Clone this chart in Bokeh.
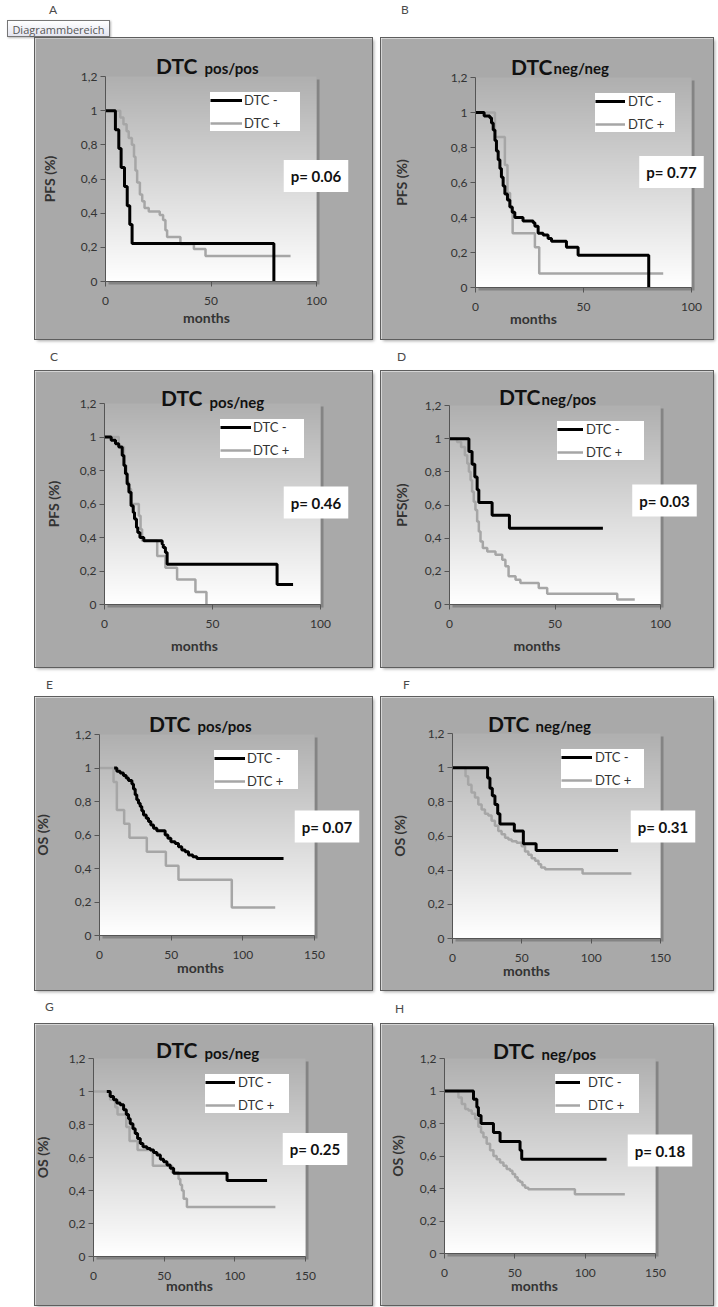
import numpy as np
from bokeh.plotting import figure
from bokeh.models import (Range1d, FixedTicker, CustomJSTickFormatter, Label,
                          Legend, LegendItem, Div, Spacer, BoxAnnotation)
from bokeh.layouts import row, column
from bokeh.embed import file_html
from bokeh.resources import INLINE

# ---------------- data ----------------
PANEL_LETTERS = ["A", "B", "C", "D", "E", "F", "G", "H"]
TITLE_MAIN = "DTC"
TITLE_SUBS = ["pos/pos", "neg/neg", "pos/neg", "neg/pos",
              "pos/pos", "neg/neg", "pos/neg", "neg/pos"]
Y_LABELS = ["PFS (%)", "PFS (%)", "PFS (%)", "PFS(%)",
            "OS (%)", "OS (%)", "OS (%)", "OS (%)"]
X_LABEL = "months"
P_VALUES = ["p= 0.06", "p= 0.77", "p= 0.46", "p= 0.03",
            "p= 0.07", "p= 0.31", "p= 0.25", "p= 0.18"]
SERIES_NAMES = ["DTC -", "DTC +"]
Y_TICKS = [0, 0.2, 0.4, 0.6, 0.8, 1.0, 1.2]
Y_TICK_LABELS = ["0", "0,2", "0,4", "0,6", "0,8", "1", "1,2"]
X_TICKS_PFS = [0, 50, 100]
X_TICKS_OS = [0, 50, 100, 150]

# A  PFS pos/pos
A_NEG_T = [0, 4.7, 6.3, 7.4, 9.0, 10.3, 11.5, 12.6, 79.8]
A_NEG_S = [1, 0.889, 0.778, 0.667, 0.556, 0.444, 0.333, 0.222, 0]
A_POS_T = [0, 7, 8.5, 10, 11, 12.5, 13.5, 14.2, 15, 16.3, 17.4, 18.5, 20.5,
           25.7, 27.3, 28.4, 29.2, 35.5, 41.9, 47.4, 87.7]
A_POS_S = [1, 0.96, 0.92, 0.88, 0.84, 0.80, 0.73, 0.65, 0.58, 0.51, 0.47, 0.43,
           0.41, 0.39, 0.36, 0.30, 0.26, 0.22, 0.19, 0.15, 0.15]
# B  PFS neg/neg
B_NEG_T = [0, 4, 6.6, 7.4, 8.2, 9, 9.7, 10.5, 11.3, 12, 12.8, 13.6, 14.8, 15.9,
           17, 18.2, 22, 26.7, 27.5, 29, 31.3, 33.6, 35.2, 42.1, 47.5, 80.2]
B_NEG_S = [1, 0.98, 0.97, 0.94, 0.90, 0.84, 0.78, 0.73, 0.68, 0.63, 0.58, 0.535,
           0.50, 0.46, 0.43, 0.40, 0.38, 0.37, 0.35, 0.31, 0.30, 0.28, 0.265,
           0.23, 0.185, 0]
B_POS_T = [0, 9, 13.6, 14.8, 16, 17.2, 27.5, 29.5, 86.9]
B_POS_S = [1, 0.86, 0.70, 0.54, 0.46, 0.31, 0.23, 0.08, 0.08]
# C  PFS pos/neg
C_NEG_T = [0, 3.1, 5.1, 6.6, 8.2, 9, 9.7, 10.5, 11.3, 12.3, 13.3, 13.9, 14.8,
           15.4, 16.4, 18.2, 26.7, 27.2, 28.2, 29, 79.9, 87.3]
C_NEG_S = [1, 0.98, 0.96, 0.94, 0.89, 0.83, 0.78, 0.72, 0.67, 0.59, 0.55, 0.51,
           0.46, 0.43, 0.40, 0.38, 0.36, 0.34, 0.31, 0.24, 0.12, 0.12]
C_POS_T = [0, 6.6, 9, 10.2, 11.3, 12.3, 15.9, 16.7, 17.4, 24.4, 28.2, 33.6,
           42.1, 47.2]
C_POS_S = [1, 0.94, 0.83, 0.73, 0.69, 0.60, 0.53, 0.45, 0.38, 0.29, 0.22, 0.15,
           0.075, 0]
# D  PFS neg/pos
D_NEG_T = [0, 9.2, 10.7, 12, 13.1, 13.9, 20.2, 28.4, 72.7]
D_NEG_S = [1, 0.923, 0.846, 0.769, 0.692, 0.615, 0.538, 0.46, 0.46]
D_POS_T = [0, 3.6, 5.5, 7.3, 8.4, 9.2, 10, 10.7, 11.5, 12.3, 13.1, 13.9, 14.7,
           15.8, 17.9, 21.8, 25, 26.5, 28, 31.3, 33.6, 42.3, 46.3, 79.5, 87.8]
D_POS_S = [1, 0.98, 0.95, 0.90, 0.85, 0.80, 0.75, 0.68, 0.62, 0.57, 0.50, 0.44,
           0.38, 0.34, 0.32, 0.30, 0.27, 0.23, 0.17, 0.15, 0.13, 0.10, 0.065,
           0.03, 0.03]
# E  OS pos/pos
E_NEG_T = [10.2, 12.1, 14.4, 16.7, 18.6, 20.2, 22.6, 23.7, 24.9, 26, 27.2, 28.4,
           29.5, 30.7, 32.6, 34.2, 35.8, 37.7, 40, 45.8, 47.7, 49.8, 52.8, 55.1,
           57.4, 59.8, 62.1, 65.1, 67.9, 128.4]
E_NEG_S = [1, 0.98, 0.97, 0.955, 0.94, 0.925, 0.905, 0.875, 0.84, 0.81, 0.79,
           0.77, 0.745, 0.72, 0.70, 0.68, 0.66, 0.64, 0.625, 0.60, 0.58, 0.56,
           0.55, 0.53, 0.51, 0.50, 0.48, 0.47, 0.46, 0.46]
E_POS_T = [0, 9.8, 12.1, 17.2, 20.9, 33, 46.3, 55.1, 92.3, 122.6]
E_POS_S = [1, 0.917, 0.75, 0.667, 0.583, 0.5, 0.417, 0.333, 0.167, 0.167]
# F  OS neg/neg
F_NEG_T = [0, 25.3, 27, 28.7, 30.6, 32.6, 34.2, 44.6, 51.1, 60.3, 119.4]
F_NEG_S = [1, 0.94, 0.88, 0.835, 0.785, 0.73, 0.67, 0.63, 0.555, 0.515, 0.515]
F_POS_T = [0, 9.4, 11.3, 13.7, 16.2, 18.6, 21, 23.4, 25.8, 28.2, 30.6, 33, 35.4,
           37.9, 40.3, 42.7, 46.3, 49.9, 52.3, 54.7, 57.1, 59.6, 62, 63.9, 66.8,
           93.8, 129]
F_POS_S = [1, 0.95, 0.90, 0.855, 0.825, 0.785, 0.755, 0.73, 0.72, 0.69, 0.66,
           0.63, 0.61, 0.59, 0.58, 0.57, 0.56, 0.54, 0.51, 0.49, 0.47, 0.455,
           0.435, 0.415, 0.405, 0.38, 0.38]
# G  OS pos/neg
G_NEG_T = [9.4, 11.8, 14.2, 16.5, 18.9, 21.3, 23.2, 24.8, 26, 27.9, 29.5, 31.2,
           33.1, 35, 37.8, 40.2, 42.5, 44.9, 47.3, 49.6, 52, 54.3, 56.7, 94.5,
           122.8]
G_NEG_S = [1, 0.97, 0.95, 0.93, 0.92, 0.89, 0.86, 0.835, 0.805, 0.775, 0.745,
           0.715, 0.685, 0.665, 0.655, 0.645, 0.63, 0.615, 0.59, 0.575, 0.555,
           0.535, 0.505, 0.46, 0.46]
G_POS_T = [0, 11.8, 15.4, 17, 23.2, 25.5, 31.2, 42, 55.5, 60.2, 61.4, 62.6,
           63.8, 66.1, 128.7]
G_POS_S = [1, 0.95, 0.905, 0.86, 0.785, 0.70, 0.645, 0.55, 0.51, 0.47, 0.435,
           0.40, 0.35, 0.30, 0.30]
# H  OS neg/pos
H_NEG_T = [0, 20.6, 23, 24.1, 26, 34.8, 39.5, 53.7, 54.9, 115.2]
H_NEG_S = [1, 0.95, 0.90, 0.85, 0.80, 0.745, 0.69, 0.635, 0.58, 0.58]
H_POS_T = [0, 9.9, 12.3, 14.7, 17, 19.4, 21.8, 24.1, 26, 27.7, 30, 32.4, 34.8,
           37.1, 39.5, 41.9, 44.2, 46.6, 48.3, 50.2, 52, 53.7, 55.4, 57.3, 59.6,
           92.7, 128.2]
H_POS_S = [1, 0.96, 0.92, 0.89, 0.88, 0.86, 0.83, 0.78, 0.745, 0.715, 0.675,
           0.635, 0.60, 0.58, 0.56, 0.54, 0.52, 0.51, 0.49, 0.47, 0.45, 0.44,
           0.42, 0.405, 0.395, 0.365, 0.365]

CURVES = [
    (A_NEG_T, A_NEG_S, A_POS_T, A_POS_S, X_TICKS_PFS),
    (B_NEG_T, B_NEG_S, B_POS_T, B_POS_S, X_TICKS_PFS),
    (C_NEG_T, C_NEG_S, C_POS_T, C_POS_S, X_TICKS_PFS),
    (D_NEG_T, D_NEG_S, D_POS_T, D_POS_S, X_TICKS_PFS),
    (E_NEG_T, E_NEG_S, E_POS_T, E_POS_S, X_TICKS_OS),
    (F_NEG_T, F_NEG_S, F_POS_T, F_POS_S, X_TICKS_OS),
    (G_NEG_T, G_NEG_S, G_POS_T, G_POS_S, X_TICKS_OS),
    (H_NEG_T, H_NEG_S, H_POS_T, H_POS_S, X_TICKS_OS),
]

# ---------------- styling / layout ----------------
FONT = "Lato"
BOX_GRAY = "#a9a9a9"
CURVE_GRAY = "#a6a6a6"
AXIS_COL = "#555555"
TICK_TXT = "#333333"

# W,H: gray box; L,R,T,B: distance of the plot area from the box edges (px)
LAYOUT = [
    dict(W=337, H=301, L=70, R=56, T=38, B=58, tr=92, sl=99, tb=11, sb=9, px=210.5, py=105.5, mx=101, my=36, ys=20, gw=32, ls=2, lw=56),
    dict(W=332, H=301, L=94, R=22, T=39, B=52, tr=77, sl=78, tb=11, sb=10, px=196, py=115.5, mx=58, my=31, ys=38, gw=30, ls=3, lw=47),
    dict(W=337, H=296, L=69, R=52, T=32, B=63, tr=98, sl=105, tb=6, sb=2, px=211.5, py=102, mx=90, my=41, ys=15, gw=31, ls=2, lw=51),
    dict(W=332, H=296, L=68, R=53, T=34, B=63, tr=91, sl=92, tb=9, sb=7, px=215, py=104, mx=87.5, my=41, ys=12, gw=26, ls=3, lw=58),
    dict(W=337, H=293, L=64, R=58, T=37, B=55, tr=91, sl=98, tb=11, sb=9, px=227.5, py=109, mx=101, my=32, ys=21, gw=31, ls=2, lw=51),
    dict(W=332, H=293, L=71, R=53, T=36, B=52, tr=77, sl=83, tb=10, sb=8, px=210.5, py=112, mx=74, my=32, ys=17, gw=31, ls=3, lw=49),
    dict(W=337, H=281, L=58, R=67, T=34, B=49, tr=104, sl=111, tb=9, sb=6, px=221.5, py=107.5, mx=96, my=29, ys=15, gw=30, ls=3, lw=51),
    dict(W=332, H=281, L=63, R=58, T=34, B=52, tr=90, sl=97, tb=8, sb=5, px=215.5, py=103, mx=90, my=32, ys=11, gw=25, ls=8, lw=51),
]
LEG_PAD, LEG_ROW, LEG_SPACING = 8, 16, 7
SHADOW_PX = 3

# vertical gradient image for the plot area (row 0 = bottom)
N_GRAD = 160
grad_vals = np.linspace(255, 176, N_GRAD).astype(np.uint8)
GRAD = np.empty((N_GRAD, 1), dtype=np.uint32)
gview = GRAD.view(dtype=np.uint8).reshape((N_GRAD, 1, 4))
gview[:, 0, 0] = grad_vals
gview[:, 0, 1] = grad_vals
gview[:, 0, 2] = grad_vals
gview[:, 0, 3] = 255

y_formatter_code = """
for (let j = 0; j < tvals.length; j++) {
  if (Math.abs(tvals[j] - tick) < 1e-9) { return tlabs[j]; }
}
return String(tick);
"""


def make_panel(i):
    cfg = LAYOUT[i]
    neg_t, neg_s, pos_t, pos_s, xticks = CURVES[i]
    W, H, L, R, T, B = cfg["W"], cfg["H"], cfg["L"], cfg["R"], cfg["T"], cfg["B"]
    fw = W - L - R
    fh = H - T - B
    xmax = xticks[-1]
    ymax = Y_TICKS[-1]
    sx = fw / xmax
    sy = fh / ymax
    # the whole gray box is the frame; the data area sits inside it
    p = figure(width=W, height=H,
               x_range=Range1d(-L / sx, xmax + R / sx),
               y_range=Range1d(-B / sy, ymax + T / sy),
               output_backend="svg", toolbar_location=None,
               min_border=0, min_border_left=0, min_border_right=0,
               min_border_top=0, min_border_bottom=0,
               border_fill_color=BOX_GRAY, background_fill_color=BOX_GRAY,
               outline_line_color=None,
               styles={"box-shadow": "0 0 0 1px #5e5e5e, 2px 2px 3px rgba(0,0,0,0.35)"})
    p.xgrid.visible = False
    p.ygrid.visible = False

    # soft drop shadow of the plot area (right and bottom edges)
    d = SHADOW_PX
    p.add_layout(BoxAnnotation(left=xmax, right=xmax + d / sx, bottom=-d / sy,
                               top=ymax - d / sy, fill_color="black", fill_alpha=0.22,
                               line_color=None, level="underlay"))
    p.add_layout(BoxAnnotation(left=d / sx, right=xmax, bottom=-d / sy, top=0,
                               fill_color="black", fill_alpha=0.22,
                               line_color=None, level="underlay"))

    p.image_rgba(image=[GRAD], x=0, y=0, dw=xmax, dh=ymax)

    r_pos = p.step(pos_t, pos_s, mode="after", line_color=CURVE_GRAY, line_width=2.5)
    r_neg = p.step(neg_t, neg_s, mode="after", line_color="black", line_width=3)

    leg_w = 2 * LEG_PAD + cfg["gw"] + cfg["ls"] + cfg["lw"]
    leg_h = 2 * LEG_PAD + 2 * LEG_ROW + LEG_SPACING
    legend = Legend(items=[LegendItem(label=SERIES_NAMES[0], renderers=[r_neg]),
                           LegendItem(label=SERIES_NAMES[1], renderers=[r_pos])],
                    location=(L + fw - leg_w, B + fh - leg_h), margin=0,
                    padding=LEG_PAD, spacing=LEG_SPACING,
                    glyph_width=cfg["gw"], glyph_height=LEG_ROW, label_height=LEG_ROW,
                    label_standoff=cfg["ls"], label_width=cfg["lw"],
                    label_text_font=FONT, label_text_font_size="13px",
                    label_text_color="#333333",
                    background_fill_color="white", background_fill_alpha=1.0,
                    border_line_color=None)
    p.add_layout(legend, "center")

    for ax in (p.xaxis[0], p.yaxis[0]):
        ax.fixed_location = 0
        ax.axis_line_color = AXIS_COL
        ax.major_tick_line_color = AXIS_COL
        ax.major_tick_out = 5
        ax.major_tick_in = 0
        ax.minor_tick_out = 0
        ax.minor_tick_in = 0
        ax.major_label_text_font = FONT
        ax.major_label_text_font_size = "12px"
        ax.major_label_text_color = TICK_TXT

    xa = p.xaxis[0]
    xa.ticker = FixedTicker(ticks=xticks)
    xa.bounds = (0, xmax)
    xa.major_label_standoff = 10

    ya = p.yaxis[0]
    ya.ticker = FixedTicker(ticks=Y_TICKS)
    ya.bounds = (0, ymax)
    ya.formatter = CustomJSTickFormatter(args=dict(tvals=Y_TICKS, tlabs=Y_TICK_LABELS),
                                         code=y_formatter_code)
    ya.major_label_standoff = 3
    ya.axis_label = Y_LABELS[i]
    ya.axis_label_standoff = cfg["ys"]
    ya.axis_label_text_font = FONT
    ya.axis_label_text_font_size = "14px"
    ya.axis_label_text_font_style = "bold"
    ya.axis_label_text_color = "#333333"

    # title: "DTC" with subscript
    p.add_layout(Label(x=L + cfg["tr"], y=B + fh + cfg["tb"], x_units="screen", y_units="screen",
                       text=TITLE_MAIN, text_align="right", text_baseline="alphabetic",
                       text_font=FONT, text_font_size="21px", text_font_style="bold",
                       text_color="#111111"))
    p.add_layout(Label(x=L + cfg["sl"], y=B + fh + cfg["sb"], x_units="screen", y_units="screen",
                       text=TITLE_SUBS[i], text_align="left", text_baseline="alphabetic",
                       text_font=FONT, text_font_size="15px", text_font_style="bold",
                       text_color="#111111"))
    # p-value box
    p.add_layout(Label(x=L + cfg["px"], y=B + cfg["py"], x_units="screen", y_units="screen",
                       text=P_VALUES[i], text_align="center", text_baseline="middle",
                       text_font=FONT, text_font_size="15px", text_font_style="bold",
                       text_color="#111111", background_fill_color="white",
                       background_fill_alpha=1.0, padding=7))
    # x-axis title
    p.add_layout(Label(x=L + cfg["mx"], y=B - cfg["my"], x_units="screen", y_units="screen",
                       text=X_LABEL, text_align="center", text_baseline="middle",
                       text_font=FONT, text_font_size="14px", text_font_style="bold",
                       text_color="#333333"))
    return p


panels = [make_panel(i) for i in range(8)]


def letter_span(letter, left, top):
    return (f'<span style="position:absolute;left:{left}px;top:{top}px;font-family:Lato,sans-serif;'
            f'font-size:12px;line-height:12px;color:#4a4a4a">{letter}</span>')


tooltip = ('<div style="position:absolute;left:7px;top:20px;width:103px;height:17px;'
           'border:1px solid #767676;background:linear-gradient(#ffffff,#e4e5f0);'
           'box-shadow:1px 1px 2px rgba(0,0,0,0.3);font-family:\'Open Sans\',sans-serif;'
           'font-size:11px;color:#575757;line-height:17px;text-align:center;'
           'white-space:nowrap">Diagrammbereich</div>')

LETTER_ROWS = [
    (38, [(PANEL_LETTERS[0], 49, 4), (PANEL_LETTERS[1], 401, 4)], tooltip),
    (32, [(PANEL_LETTERS[2], 50, 12), (PANEL_LETTERS[3], 397, 12)], ""),
    (30, [(PANEL_LETTERS[4], 46, 12), (PANEL_LETTERS[5], 403, 12)], ""),
    (34, [(PANEL_LETTERS[6], 45, 11), (PANEL_LETTERS[7], 395, 13)], ""),
]

children = []
for r, (h, letters, extra) in enumerate(LETTER_ROWS):
    html = ('<div style="position:relative;width:713px;height:%dpx;">' % h
            + "".join(letter_span(l, x, y) for l, x, y in letters) + extra + "</div>")
    children.append(Div(text=html, width=713, height=h, margin=0,
                        styles={"overflow": "visible"}))
    left_p, right_p = panels[2 * r], panels[2 * r + 1]
    hh = LAYOUT[2 * r]["H"]
    children.append(row(Spacer(width=35, height=hh, margin=0), left_p,
                        Spacer(width=9, height=hh, margin=0), right_p, spacing=0))

layout = column(children, spacing=0)

open("out.html", "w").write(file_html(layout, INLINE, title="DTC Kaplan-Meier"))
